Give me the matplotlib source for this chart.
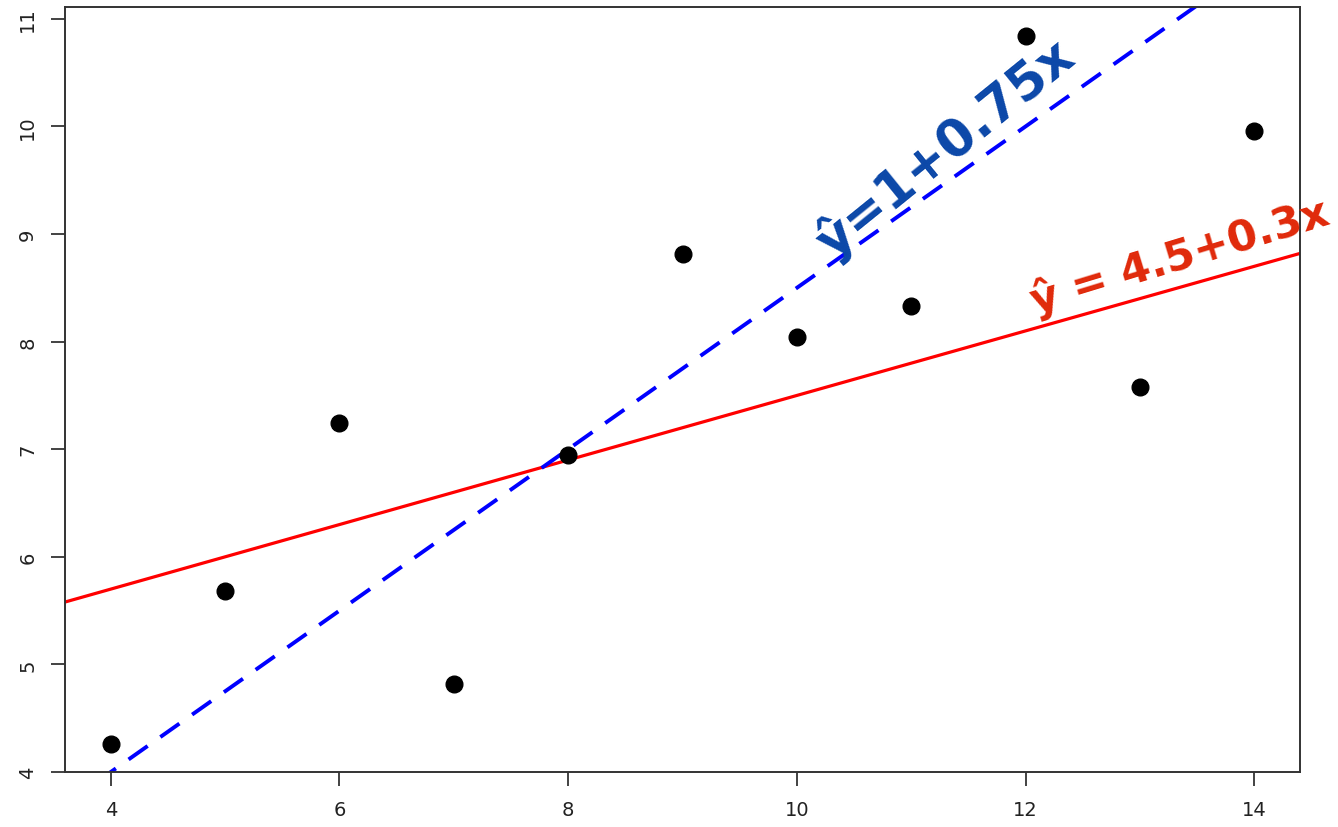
import matplotlib
matplotlib.use('Agg')
import matplotlib.pyplot as plt
import numpy as np

# Anscombe set I
x = [10, 8, 13, 9, 11, 14, 6, 4, 12, 7, 5]
y = [8.04, 6.95, 7.58, 8.81, 8.33, 9.96, 7.24, 4.26, 10.84, 4.82, 5.68]

# two candidate lines: intercept, slope
fit_red = (4.5, 0.3)
fit_blue = (1.0, 0.75)

xticks = [4, 6, 8, 10, 12, 14]
yticks = [4, 5, 6, 7, 8, 9, 10, 11]

fig = plt.figure(figsize=(13.38, 8.28), dpi=100)
ax = fig.add_axes([0.0486, 0.0664, 0.9230, 0.9239])

xlim = (3.6, 14.4)
ylim = (4.0, 11.11)
xs = np.array(xlim)

ax.plot(x, y, 'o', color='black', markersize=12, zorder=3)
ax.plot(xs, fit_red[0] + fit_red[1] * xs, color='#ff0000', linewidth=2.3)
ax.plot(xs, fit_blue[0] + fit_blue[1] * xs, color='#0000ff', linewidth=2.8,
        dashes=(6, 4))

ax.set_xlim(*xlim)
ax.set_ylim(*ylim)
ax.set_xticks(xticks)
ax.set_yticks(yticks)
ax.tick_params(length=10, width=1.2, labelsize=14, colors='#222222', pad=10)
for lab in ax.get_yticklabels():
    lab.set_rotation(90)
    lab.set_va('center')
for s in ax.spines.values():
    s.set_linewidth(1.4)
    s.set_color('#333333')

# handwritten-style labels for the two lines
ax.text(11.30, 9.80, 'ŷ=1+0.75x', color='#0b47a8', fontsize=37,
        fontweight='bold', rotation=39, ha='center', va='center', clip_on=False)
ax.text(13.35, 8.80, 'ŷ = 4.5+0.3x', color='#e0290a', fontsize=31,
        fontweight='bold', rotation=17, ha='center', va='center', clip_on=False)

plt.savefig('out.png', dpi=100)
plt.close()
